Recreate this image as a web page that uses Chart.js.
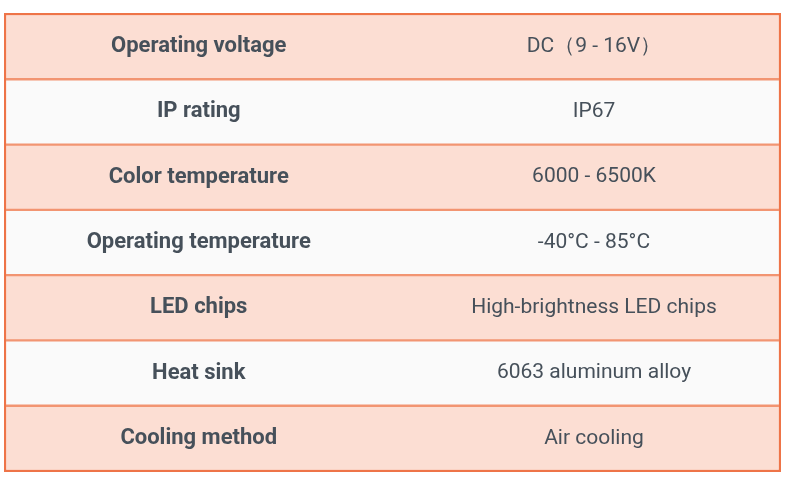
<!DOCTYPE html>
<html>
<head>
<meta charset="utf-8">
<script src="https://cdn.jsdelivr.net/npm/chart.js@4"></script>
<style>
  html, body { margin: 0; padding: 0; background: #fff; }
  #wrap { width: 793px; height: 484px; }
</style>
</head>
<body>
<div id="wrap"><canvas id="specTable"></canvas></div>
<script>
// table content
var rows = ['Operating voltage', 'IP rating', 'Color temperature', 'Operating temperature', 'LED chips', 'Heat sink', 'Cooling method'];
var values = ['DC\uFF089 - 16V\uFF09', 'IP67', '6000 - 6500K', '-40\u00B0C - 85\u00B0C', 'High-brightness LED chips', '6063 aluminum alloy', 'Air cooling'];
var columnCenters = [0.5, 1.52];

var rowFill = rows.map(function (r, i) { return i % 2 === 0 ? '#FCDED3' : '#FAFAFA'; });

// draws the cell texts at scale positions
var cellText = {
  id: 'cellText',
  afterDatasetsDraw: function (chart) {
    var c = chart.ctx, xs = chart.scales.x, ys = chart.scales.y;
    c.save();
    c.fillStyle = '#46505A';
    c.textAlign = 'center';
    c.textBaseline = 'middle';
    rows.forEach(function (r, i) {
      var y = ys.getPixelForValue(i);
      c.font = 'bold 22px Roboto';
      c.fillText(r, xs.getPixelForValue(columnCenters[0]), y);
      c.font = '21px Roboto';
      c.fillText(values[i], xs.getPixelForValue(columnCenters[1]), y);
    });
    // outer frame
    var a = chart.chartArea;
    c.strokeStyle = '#EE7448';
    c.lineWidth = 2;
    c.strokeRect(a.left, a.top, a.right - a.left, a.bottom - a.top);
    c.restore();
  }
};

new Chart(document.getElementById('specTable'), {
  type: 'bar',
  data: {
    labels: rows,
    datasets: [{
      data: rows.map(function () { return [0, 2]; }),
      backgroundColor: rowFill,
      borderColor: '#F29572',
      borderWidth: 1.5,
      borderSkipped: false,
      barPercentage: 1,
      categoryPercentage: 1
    }]
  },
  options: {
    indexAxis: 'y',
    responsive: true,
    maintainAspectRatio: false,
    animation: false,
    layout: { padding: { left: 5, right: 13, top: 14, bottom: 13 } },
    plugins: { legend: { display: false }, tooltip: { enabled: false } },
    scales: {
      x: { min: 0, max: 2, display: false },
      y: { display: false }
    }
  },
  plugins: [cellText]
});
</script>
</body>
</html>
